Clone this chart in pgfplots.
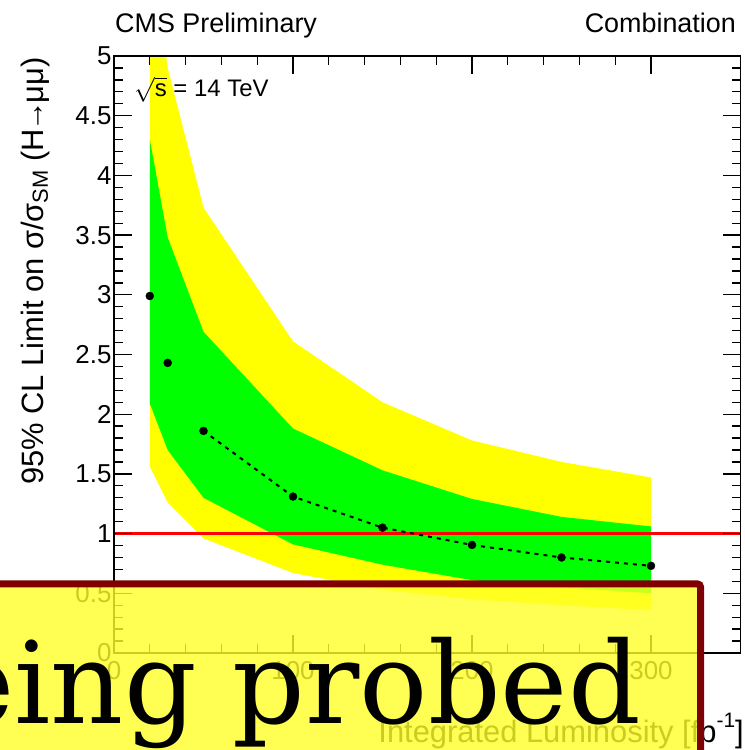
\documentclass[border=0pt]{standalone}
\usepackage{pgfplots}
\pgfplotsset{compat=1.18}
\usepackage{fontspec}
\newfontfamily\arial{Liberation Sans}
\newfontfamily\dvs{DejaVu Serif}
\definecolor{bandyellow}{RGB}{255,255,0}
\definecolor{bandgreen}{RGB}{0,255,0}
\definecolor{boxred}{RGB}{128,0,0}
\definecolor{boxfill}{RGB}{255,255,40}
\begin{document}
\begin{tikzpicture}
\useasboundingbox (0,0) rectangle (745bp,750bp);
\begin{scope}
\clip (0,0) rectangle (745bp,750bp);
\fill[white] (0,0) rectangle (745bp,750bp);
\begin{axis}[
  at={(114bp,97bp)}, anchor=south west,
  scale only axis, width=626.5bp, height=597bp,
  xmin=0, xmax=350, ymin=0, ymax=5,
  xtick={0,100,200,300}, minor x tick num=4,
  ytick={0,0.5,...,5}, minor y tick num=4,
  yticklabels={0,0.5,1,1.5,2,2.5,3,3.5,4,4.5,5},
  tick align=inside,
  major tick length=18bp, minor tick length=9bp,
  every tick/.style={black, line width=1.3bp},
  axis line style={line width=1.5bp},
  ticklabel style={font=\arial\fontsize{26}{26}\selectfont},
  xticklabel style={yshift=-5bp},
  yticklabel style={xshift=1bp},
  /pgf/number format/assume math mode=true,
  axis on top,
]
\addplot[fill=bandyellow, draw=none] coordinates {
 (20,6.0) (30,4.9) (50,3.73) (100,2.61) (150,2.10) (200,1.78) (250,1.60) (300,1.47)
 (300,0.36) (250,0.40) (200,0.45) (150,0.53) (100,0.67) (50,0.96) (30,1.26) (20,1.56)} -- cycle;
\addplot[fill=bandgreen, draw=none] coordinates {
 (20,4.30) (30,3.48) (50,2.69) (100,1.88) (150,1.53) (200,1.29) (250,1.14) (300,1.06)
 (300,0.50) (250,0.55) (200,0.61) (150,0.74) (100,0.91) (50,1.30) (30,1.70) (20,2.09)} -- cycle;
\addplot[red, line width=3bp, mark=none] coordinates {(0,1) (350,1)};
\addplot[black, line width=2bp, dash pattern=on 4bp off 5bp, mark=none] coordinates {
 (50,1.86) (100,1.31) (150,1.05) (200,0.905) (250,0.80) (300,0.73)};
\addplot[only marks, mark=*, mark size=4bp, black] coordinates {
 (20,2.99) (30,2.43) (50,1.86) (100,1.31) (150,1.05) (200,0.905) (250,0.80) (300,0.73)};
\end{axis}
\node[anchor=base west, inner sep=0pt, font=\arial\fontsize{27}{27}\selectfont] at (115bp,717bp) {CMS Preliminary};
\node[anchor=base east, inner sep=0pt, font=\arial\fontsize{27}{27}\selectfont] at (736bp,717bp) {Combination};
\node[anchor=base west, inner sep=0pt, font=\arial\fontsize{24}{24}\selectfont] at (134bp,653bp) {$\sqrt{\mbox{s}}$ = 14 TeV};
\node[rotate=90, anchor=base east, inner sep=0pt, font=\arial\fontsize{31}{31}\selectfont] at (43bp,693bp)
  {95\% CL Limit on σ/σ\raisebox{-0.3ex}{\fontsize{22}{22}\selectfont SM} (H\kern-0.08em→\kern-0.08emμμ)};
\node[anchor=base east, inner sep=0pt, font=\arial\fontsize{31}{31}\selectfont] at (744bp,8bp)
  {Integrated Luminosity [fb\raisebox{0.9ex}{\fontsize{21}{21}\selectfont -1}]};
\draw[boxred, line width=7bp, rounded corners=3bp, fill=boxfill, fill opacity=0.8]
  (-30bp,-30bp) rectangle (700.5bp,166bp);
\node[anchor=base east, inner sep=0pt, font=\dvs\fontsize{114}{114}\selectfont] at (641bp,27bp) {eing probed};
\end{scope}
\end{tikzpicture}
\end{document}
